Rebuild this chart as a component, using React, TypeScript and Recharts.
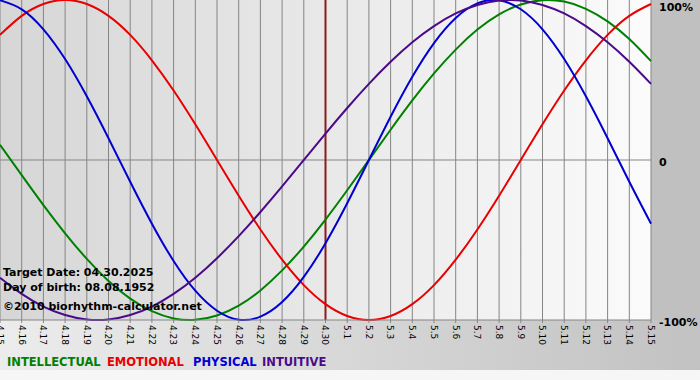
import {
  LineChart,
  Line,
  XAxis,
  YAxis,
  CartesianGrid,
  ReferenceLine,
} from 'recharts'

const dates = [
  '4.15', '4.16', '4.17', '4.18', '4.19', '4.20', '4.21', '4.22', '4.23', '4.24', '4.25',
  '4.26', '4.27', '4.28', '4.29', '4.30', '5.1', '5.2', '5.3', '5.4', '5.5', '5.6', '5.7',
  '5.8', '5.9', '5.10', '5.11', '5.12', '5.13', '5.14', '5.15',
]

const intellectual = [
  0.095, -0.095, -0.282, -0.458, -0.618, -0.756, -0.866, -0.945, -0.99, -0.999, -0.972,
  -0.91, -0.815, -0.69, -0.541, -0.372, -0.189, 0.0, 0.189, 0.372, 0.541, 0.69, 0.815, 0.91,
  0.972, 0.999, 0.99, 0.945, 0.866, 0.756, 0.618,
]
const emotional = [
  0.782, 0.901, 0.975, 1.0, 0.975, 0.901, 0.782, 0.623, 0.434, 0.223, 0.0, -0.223, -0.434,
  -0.623, -0.782, -0.901, -0.975, -1.0, -0.975, -0.901, -0.782, -0.623, -0.434, -0.223, 0.0,
  0.223, 0.434, 0.623, 0.782, 0.901, 0.975,
]
const physical = [
  0.998, 0.942, 0.817, 0.631, 0.398, 0.136, -0.136, -0.398, -0.631, -0.817, -0.942, -0.998,
  -0.979, -0.888, -0.731, -0.52, -0.27, 0.0, 0.27, 0.52, 0.731, 0.888, 0.979, 0.998, 0.942,
  0.817, 0.631, 0.398, 0.136, -0.136, -0.398,
]
const intuitive = [
  -0.736, -0.837, -0.916, -0.969, -0.997, -0.997, -0.969, -0.916, -0.837, -0.736, -0.614,
  -0.476, -0.325, -0.165, 0.0, 0.165, 0.325, 0.476, 0.614, 0.736, 0.837, 0.916, 0.969, 0.997,
  0.997, 0.969, 0.916, 0.837, 0.736, 0.614, 0.476,
]

const yTicks = [-1, 0, 1]
const yTickLabels: Record<string, string> = { '-1': '-100%', '0': '0', '1': '100%' }
const targetDate = '4.30'

const series = [
  { key: 'intellectual', name: 'INTELLECTUAL', color: '#008000' },
  { key: 'emotional', name: 'EMOTIONAL', color: '#e80000' },
  { key: 'physical', name: 'PHYSICAL', color: '#0000d0' },
  { key: 'intuitive', name: 'INTUITIVE', color: '#4b0a8a' },
]

const data = dates.map((date, i) => ({
  date,
  intellectual: intellectual[i],
  emotional: emotional[i],
  physical: physical[i],
  intuitive: intuitive[i],
}))

const FONT = '"DejaVu Sans", Verdana, sans-serif'

const DateTick = (props: any) => {
  const { x, y, payload } = props
  return (
    <text
      x={x}
      y={y}
      dy="0.35em"
      transform={`rotate(90 ${x} ${y})`}
      textAnchor="start"
      fontSize={9}
      fontFamily={FONT}
      fill="#000"
    >
      {payload.value}
    </text>
  )
}

const PercentTick = (props: any) => {
  const { x, y, payload } = props
  // the top label sits below its tick so it is not cut off
  const dy = Number(payload.value) === 1 ? 11 : 6
  return (
    <text x={x} y={y + dy} textAnchor="start" fontSize={11} fontWeight="bold" fontFamily={FONT} fill="#000">
      {yTickLabels[String(payload.value)]}
    </text>
  )
}

const legendX = [7, 107, 193, 262]

export default function App() {
  return (
    <div style={{ position: 'absolute', left: 0, top: 0, width: 700, height: 380, background: '#f6f6f6' }}>
      <div style={{ position: 'absolute', left: 0, top: 0, width: 651, height: 320, background: 'linear-gradient(to right, #d6d6d6, #fbfbfb)' }} />
      <div style={{ position: 'absolute', left: 651, top: 0, width: 49, height: 320, background: '#c0c0c0' }} />
      <div style={{ position: 'absolute', left: 0, top: 320, width: 700, height: 50, background: 'linear-gradient(to right, #ececec, #c2c2c2)' }} />
      <div style={{ position: 'absolute', left: 0, top: 0 }}>
        <LineChart width={700} height={380} data={data} margin={{ top: 0, right: 0, bottom: 0, left: 0 }}>
          <CartesianGrid horizontal={false} stroke="#858585" />
          <XAxis
            dataKey="date"
            interval={0}
            height={60}
            tick={<DateTick />}
            tickSize={3}
            tickLine={{ stroke: '#858585' }}
            axisLine={{ stroke: '#858585' }}
          />
          <YAxis
            orientation="right"
            width={49}
            domain={[-1, 1]}
            ticks={yTicks}
            interval={0}
            tick={<PercentTick />}
            axisLine={false}
            tickLine={false}
          />
          <ReferenceLine y={0} stroke="#858585" />
          <ReferenceLine x={targetDate} stroke="#8a1c1c" strokeWidth={2} />
          {series.map((s) => (
            <Line
              key={s.key}
              type="natural"
              dataKey={s.key}
              name={s.name}
              stroke={s.color}
              strokeWidth={2}
              dot={false}
              activeDot={false}
              isAnimationActive={false}
            />
          ))}
        </LineChart>
      </div>
      <svg width={700} height={380} style={{ position: 'absolute', left: 0, top: 0, pointerEvents: 'none' }}>
        <g fontFamily={FONT} fontWeight="bold" fontSize={11} fill="#000">
          <text x={3} y={276}>Target Date: 04.30.2025</text>
          <text x={3} y={291}>Day of birth: 08.08.1952</text>
          <text x={3} y={310}>©2010 biorhythm-calculator.net</text>
        </g>
        <g fontFamily={FONT} fontWeight="bold" fontSize={11.5}>
          {series.map((s, i) => (
            <text key={s.key} x={legendX[i]} y={366} fill={s.color}>
              {s.name}
            </text>
          ))}
        </g>
      </svg>
    </div>
  )
}
